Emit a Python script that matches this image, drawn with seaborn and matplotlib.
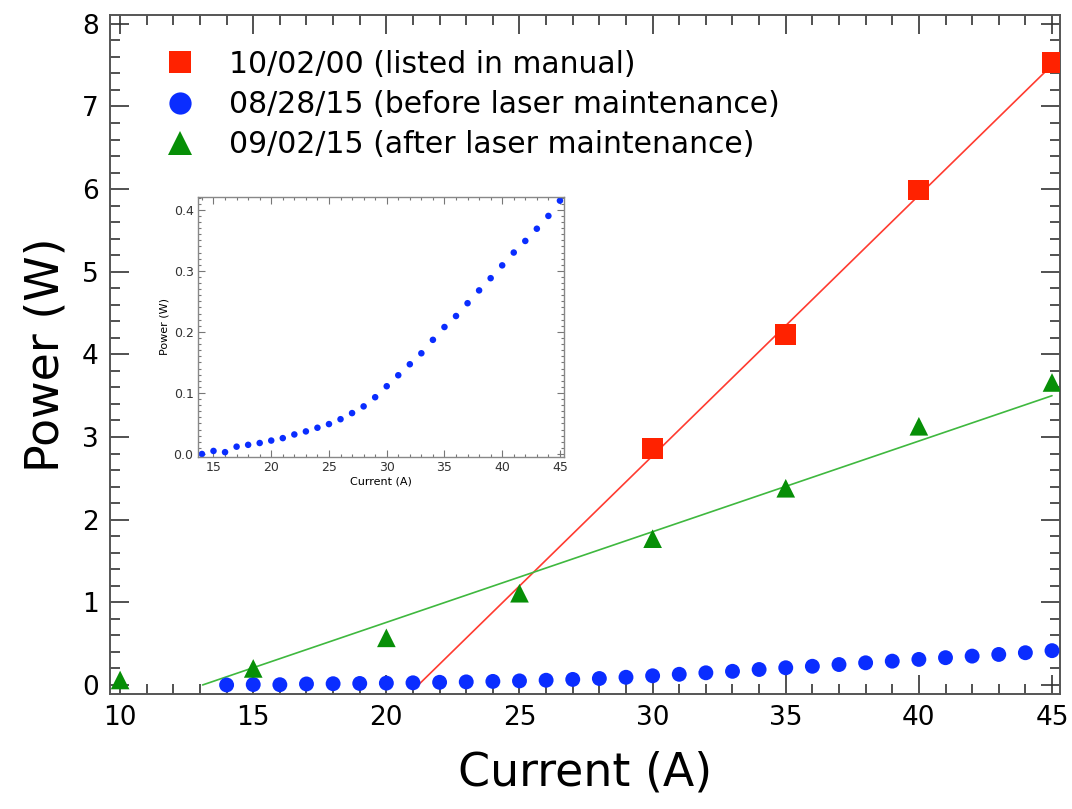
import seaborn as sns
import matplotlib.pyplot as plt
from matplotlib.ticker import MultipleLocator
from matplotlib.lines import Line2D

# Data
manual_current = [30, 35, 40, 45]
manual_power = [2.86, 4.24, 5.99, 7.53]
manual_fit_x = [21.2, 45.0]
manual_fit_y = [0.0, 7.5]

before_current = list(range(14, 46))
before_power = [0.000, 0.005, 0.003, 0.012, 0.015, 0.018, 0.022, 0.026,
                0.032, 0.037, 0.043, 0.049, 0.057, 0.067, 0.078, 0.093,
                0.111, 0.129, 0.147, 0.165, 0.187, 0.208, 0.226, 0.247,
                0.268, 0.288, 0.309, 0.330, 0.349, 0.369, 0.390, 0.415]

after_current = [10, 15, 20, 25, 30, 35, 40, 45]
after_power = [0.06, 0.20, 0.57, 1.11, 1.77, 2.38, 3.13, 3.66]
after_fit_x = [13.1, 45.0]
after_fit_y = [0.0, 3.5]

labels = ['10/02/00 (listed in manual)',
          '08/28/15 (before laser maintenance)',
          '09/02/15 (after laser maintenance)']

RED = '#ff2200'
BLUE = '#0a2dff'
GREEN = '#078f07'

sns.set_theme(style="ticks")
plt.rcParams['font.family'] = ['DejaVu Sans']
plt.rcParams['text.color'] = 'black'
plt.rcParams['axes.labelcolor'] = 'black'

fig = plt.figure(figsize=(10.72, 8.09), dpi=100)
ax = fig.add_axes([0.1026, 0.1421, 0.8862, 0.8397])

# Fit lines
sns.lineplot(x=manual_fit_x, y=manual_fit_y, ax=ax, color='#ff3b30',
             linewidth=1.2, zorder=2)
sns.lineplot(x=after_fit_x, y=after_fit_y, ax=ax, color='#3fb83f',
             linewidth=1.2, zorder=2)

# Measurements
sns.scatterplot(x=manual_current, y=manual_power, ax=ax, marker='s',
                s=225, color=RED, edgecolor='none', zorder=3)
sns.scatterplot(x=before_current, y=before_power, ax=ax, marker='o',
                s=115, color=BLUE, edgecolor='none', zorder=3)
sns.scatterplot(x=after_current, y=after_power, ax=ax, marker='^',
                s=180, color=GREEN, edgecolor='none', zorder=3)

ax.set_xlim(9.62, 45.3)
ax.set_ylim(-0.11, 8.11)
ax.xaxis.set_major_locator(MultipleLocator(5))
ax.xaxis.set_minor_locator(MultipleLocator(1))
ax.yaxis.set_major_locator(MultipleLocator(1))
ax.yaxis.set_minor_locator(MultipleLocator(0.2))
ax.tick_params(which='both', direction='in', top=True, right=True,
               color='#333333', width=1.2, labelcolor='black')
ax.tick_params(which='major', length=14, labelsize=19, pad=8)
ax.tick_params(which='minor', length=7)
for sp in ax.spines.values():
    sp.set_color('#555555')
    sp.set_linewidth(1.4)

ax.set_xlabel('Current (A)', fontsize=33, labelpad=14)
ax.set_ylabel('Power (W)', fontsize=33, labelpad=10)

# Legend with larger markers than the plotted circles
handles = [
    Line2D([], [], linestyle='none', marker='s', markersize=16,
           color=RED, markeredgewidth=0),
    Line2D([], [], linestyle='none', marker='o', markersize=16,
           color=BLUE, markeredgewidth=0),
    Line2D([], [], linestyle='none', marker='^', markersize=17,
           color=GREEN, markeredgewidth=0),
]
ax.legend(handles, labels, loc='upper left', bbox_to_anchor=(0.039, 0.975),
          frameon=False, fontsize=21.5, handlelength=1.0, handletextpad=1.15,
          labelspacing=0.38, borderaxespad=0.2)

# Inset with the low-power curve
ins = fig.add_axes([0.1844, 0.4355, 0.3417, 0.321])
sns.scatterplot(x=before_current, y=before_power, ax=ins, marker='o',
                s=22, color=BLUE, edgecolor='none', legend=False)
ins.set_xlim(13.63, 45.35)
ins.set_ylim(-0.0044, 0.421)
ins.xaxis.set_major_locator(MultipleLocator(5))
ins.xaxis.set_minor_locator(MultipleLocator(1))
ins.yaxis.set_major_locator(MultipleLocator(0.1))
ins.yaxis.set_minor_locator(MultipleLocator(0.01))
ins.yaxis.set_major_formatter(plt.FormatStrFormatter('%.1f'))
ins.tick_params(which='both', direction='in', top=True, right=True,
                color='#777777', width=0.8, labelsize=9, labelcolor='#333333',
                pad=3)
ins.tick_params(which='major', length=5)
ins.tick_params(which='minor', length=2.5)
for sp in ins.spines.values():
    sp.set_color('#888888')
    sp.set_linewidth(1.0)
ins.set_xlabel('Current (A)', fontsize=8, labelpad=2)
ins.set_ylabel('Power (W)', fontsize=8, labelpad=3)

fig.savefig('out.png', dpi=100)
